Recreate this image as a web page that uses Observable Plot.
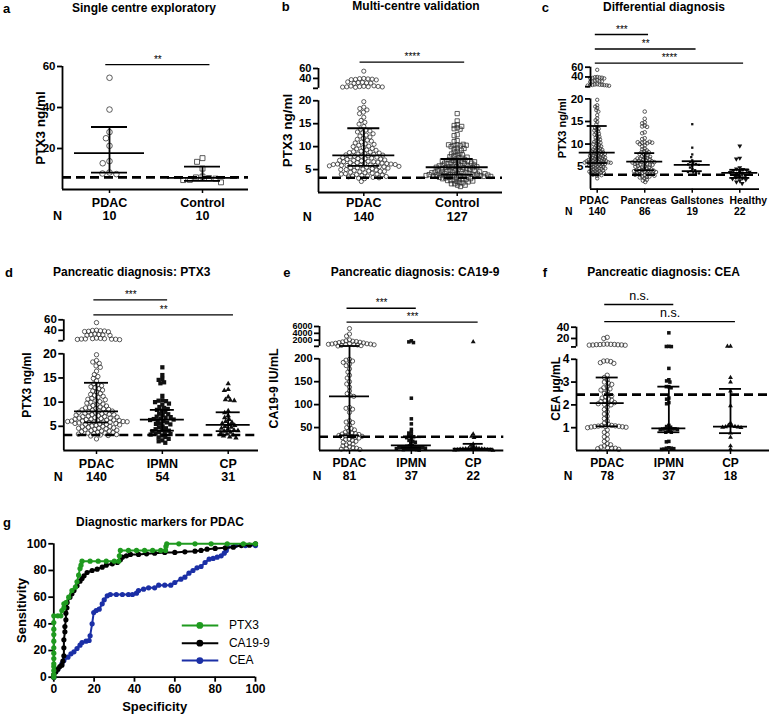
<!DOCTYPE html>
<html><head><meta charset="utf-8">
<script src="https://cdn.jsdelivr.net/npm/d3@7"></script>
<script src="https://cdn.jsdelivr.net/npm/@observablehq/plot@0.6"></script>
<style>
body{margin:0;background:#fff;}
#fig{position:relative;width:770px;height:714px;overflow:hidden;background:#fff;font-family:"Liberation Sans",Arial,Helvetica,sans-serif;color:#000;}
.panel{position:absolute;}
.panel svg{overflow:visible;}
.ttl{position:absolute;transform:translate(-50%,-50%);font-weight:bold;font-size:12px;white-space:nowrap;}
.lt{position:absolute;transform:translateY(-50%);font-weight:bold;font-size:13px;}
</style></head><body><div id="fig"></div>
<script>
// ---------------- DATA ----------------
const a_cats = ["PDAC", "Control"];
const a_n = [10, 10];
const a_pdac = [54.5, 39, 28, 25, 21.3, 13.8, 12.8, 8.3, 7.8, 7.5];
const a_control = [15.3, 13.5, 10.2, 6.3, 5.9, 5.6, 5.3, 4.7, 4.6, 3.5];
const a_stats = [[17.7, 8.2, 30.5], [5.7, 4.2, 11.2]]; // centre, low, high
const a_thr = 5.9;
const a_ticks = [20, 40, 60];
const a_sig = [{from: 0, to: 1, label: "**"}];

const ptx3_pdac = [54.6, 40, 39.5, 39, 38.5, 38, 37.5, 37, 33, 32, 31.5, 31, 30.5, 30,
  25, 24.5, 24, 23.8, 23.5, 23.2, 23, 22.8, 22.5, 22,
  19.8, 18.6, 18.3, 18.0, 17.5, 17.2, 16.4, 15.7, 15.3, 14.9, 14.4,
  13.8, 13.6, 13.4, 13.2, 13.0, 12.8, 12.5, 12.3, 12.1, 11.8, 11.6, 11.4, 11.2, 11.0, 10.8, 10.6, 10.5,
  10.3, 10.1, 10.0, 9.8, 9.6, 9.5, 9.3, 9.2, 9.0, 8.9, 8.8, 8.7, 8.6, 8.5, 8.4, 8.3, 8.2, 8.15,
  8.0, 7.9, 7.9, 7.8, 7.7, 7.6, 7.5, 7.4, 7.4, 7.3, 7.2, 7.1, 7.0, 7.0, 6.9, 6.8, 6.7, 6.7, 6.6, 6.5,
  6.5, 6.4, 6.3, 6.3, 6.2, 6.2, 6.1, 6.1, 6.0, 6.0, 5.95, 5.9, 5.9, 5.85, 5.8,
  5.7, 5.6, 5.6, 5.5, 5.4, 5.4, 5.3, 5.2, 5.1, 5.0, 5.0, 4.9, 4.8, 4.7, 4.6, 4.6, 4.5, 4.4, 4.3, 4.2,
  4.1, 4.0, 4.0, 3.9, 3.8, 3.7, 3.6, 3.6, 3.5, 3.4, 3.3, 3.2, 3.1, 3.0, 2.4];
const ptx3_ipmn = [17.2, 15.6, 14.8, 14.6, 14.1, 13.9, 11.3, 10.4, 10.3, 10.2, 10.0, 9.7, 9.5, 9.0, 8.8,
  8.6, 8.4, 8.2, 8.0, 7.6, 7.5, 7.3, 7.0, 6.9, 6.8, 6.6, 6.5, 6.4, 6.3, 6.2, 6.0, 5.8, 5.6, 5.5, 5.4,
  5.0, 4.8, 4.6, 4.4, 4.2, 4.1, 4.0, 3.8, 3.6, 3.5, 3.4, 3.3, 3.1, 2.8, 2.7, 2.4, 2.1, 1.9, 1.6];
const ptx3_cp = [13.8, 12.6, 12.4, 11.1, 10.5, 10.4, 10.3, 8.2, 7.8, 7.2, 6.8, 6.4, 6.0, 5.8, 5.6, 5.4,
  5.2, 5.0, 4.8, 4.6, 4.4, 4.2, 4.1, 4.0, 3.8, 3.6, 3.4, 3.2, 3.0, 2.8, 2.6];
const ptx3_panc_other = [5.9];
const ptx3_gall = [14.4, 9.2, 7.7, 7.1, 6.4, 6.0, 5.8, 5.6, 5.5, 5.4, 5.2, 4.8, 4.5, 4.2, 4.0, 3.8, 3.7, 3.6, 3.5];
const ptx3_healthy = [9.6, 6.9, 6.7, 4.8, 4.5, 4.4, 4.3, 4.1, 3.9, 3.8, 3.7, 3.5, 3.3, 3.0, 2.8, 2.6, 2.5, 2.3, 2.1, 1.9, 1.6, 1.3];
const ptx3_pancreas = [...ptx3_ipmn, ...ptx3_cp, ...ptx3_panc_other];
const ptx3_control = [...ptx3_pancreas, ...ptx3_gall, ...ptx3_healthy];
const ptx3_thr = 3.2;
const ptx3_low_ticks = [5, 10, 15, 20];
const ptx3_up_ticks = [40, 60];

const b_cats = ["PDAC", "Control"];
const b_n = [140, 127];
const b_stats = [[8.1, 5.8, 14.0], [5.5, 3.9, 7.3]];
const b_sig = [{from: 0, to: 1, label: "****"}];

const c_cats = ["PDAC", "Pancreas", "Gallstones", "Healthy"];
const c_n = [140, 86, 19, 22];
const c_stats = [[8.1, 5.8, 14.0], [6.1, 4.2, 8.0], [5.4, 4.0, 6.2], [3.6, 2.5, 4.3]];
const c_sig = [{from: 0, to: 1, label: "***"}, {from: 0, to: 2, label: "**"}, {from: 0, to: 3, label: "****"}];

const d_cats = ["PDAC", "IPMN", "CP"];
const d_n = [140, 54, 31];
const d_stats = [[8.1, 5.8, 14.0], [6.4, 4.1, 8.4], [5.3, 4.0, 7.9]];
const d_sig = [{from: 0, to: 1, label: "***"}, {from: 0, to: 2, label: "**"}];

const ca_pdac = [5400, 3800, 3200, 2100, 1800, 1700, 1600, 1500, 1400, 1300, 1200, 1100, 1000, 950, 900,
  850, 800, 750, 700, 650, 600, 500, 400, 300,
  199, 197, 195, 192, 188, 185, 178, 171, 164, 158, 150, 145, 138, 130, 124, 120, 118,
  94, 92, 90, 83, 65, 62, 61, 55, 50, 48, 45, 42, 40, 38, 37, 36, 35, 34, 33, 32, 31, 30, 29, 28, 27,
  25, 24, 22, 20, 18, 16, 14, 12, 10, 8, 6, 5, 4, 3, 2];
const ca_ipmn = [1800, 1500, 1300, 114, 69, 58, 46, 40, 38, 33, 32, 30, 28, 25, 22, 20, 18, 16, 11,
  10, 9, 9, 8, 8, 7, 7, 6, 6, 5, 5, 4, 4, 3, 3, 2, 2, 1];
const ca_cp = [1500, 36, 31, 28, 14, 11, 8, 6, 5, 4.5, 4.2, 3.8, 3.5, 3, 2.8, 2.5, 2, 1.8, 1.5, 1.2, 1, 0.5];
const e_n = [81, 37, 22];
const e_stats = [[118, 33, 300], [11, 6, 29], [4, 2, 14.5]];
const ca_thr = 30;
const ca_low_ticks = [50, 100, 150, 200];
const ca_up_ticks = [2000, 4000, 6000];
const e_sig = [{from: 0, to: 1, label: "***"}, {from: 0, to: 2, label: "***"}];

const cea_pdac = [22, 20, 10, 9.8, 9.6, 9.4, 9.2, 9.0, 8.8, 8.6, 8.4, 8.2, 8.0,
  3.93, 3.92, 3.9, 3.85, 3.82, 3.3, 3.2, 3.1, 3.0, 2.95, 2.9, 2.8, 2.75, 2.7, 2.65, 2.6, 2.5, 2.45,
  2.4, 2.35, 2.3, 2.25, 2.2, 2.18, 2.15, 2.1,
  2.08, 2.05, 2.02, 2.0, 1.9, 1.8, 1.7, 1.6, 1.5, 1.4, 1.3, 1.2, 1.15, 1.1, 1.09, 1.08, 1.07, 1.06,
  1.05, 1.05, 1.04, 1.03, 1.02, 1.0, 0.9, 0.8, 0.7, 0.6, 0.5, 0.4, 0.3, 0.25, 0.2, 0.15, 0.12, 0.1,
  0.1, 0.08, 0.05];
const cea_ipmn = [30, 6, 5.8, 5.6, 3.6, 3.1, 3.05, 3.0, 2.8, 2.8, 2.75, 2.3, 2.25, 2.1, 2.05, 1.1, 1.05,
  1.02, 0.97, 0.96, 0.95, 0.95, 0.94, 0.93, 0.92, 0.9, 0.85, 0.8, 0.8, 0.4, 0.38, 0.12, 0.1, 0.1,
  0.08, 0.06, 0.05];
const cea_cp = [6.2, 6.0, 3.2, 3.0, 2.6, 1.96, 1.2, 1.1, 1.08, 1.05, 1.04, 1.03, 1.02, 1.0, 0.76, 0.58, 0.2, 0.05];
const f_n = [78, 37, 18];
const f_stats = [[2.08, 1.06, 3.2], [0.97, 0.8, 2.8], [1.05, 0.76, 2.7]];
const cea_thr = 2.45;
const cea_low_ticks = [1, 2, 3, 4];
const cea_up_ticks = [20, 40];
const f_sig = [{from: 0, to: 1, label: "n.s."}, {from: 0, to: 2, label: "n.s."}];

// ROC: [x (Specificity axis), y (Sensitivity)]
const roc_ptx3 = [[0,0],[0,2],[0,5],[0,8],[0,10],[0,14],[0,18],[0,22],[0,27],[0,32],[0,36],[0,41],[0,46],
  [2,46],[3.5,46],[4,50],[5,52],[5,55],[6,56],[7.4,60],[9,65],[10.7,67.5],[11.5,71.5],[12.3,76.5],
  [13,81.5],[13.5,84],[14,87],[18,87],[22,87],[26,87],[30,87],[32.2,87],[32.5,91],[33,95],[37,95],
  [41,95],[45,95],[49,95],[53,95],[55.4,95],[55.6,98],[56,100],[62,100],[70,100],[78,100],[86,100],
  [94,100],[100,100]];
const roc_ca199 = [[0,0],[0,2],[1,4],[2,6],[3,8],[4,9],[4.5,12],[5,16],[5,22],[5,28],[5.5,34],[5.5,38],
  [6,43],[6,48],[6.5,52],[6.6,56],[8,60],[9,62.5],[10,65],[11.5,68.5],[13,72],[14,74],[15,76],
  [16.5,78.5],[19,80],[21.5,81],[24,82.5],[26,84],[29,85],[31.5,86],[33,88],[34,90],[36,91],[38,92],
  [42,92],[46,92.5],[50,93],[55,93.5],[60,93.5],[65,94],[70,94.5],[73,95],[76,96],[80,96.5],[85,97],
  [89,97.5],[93,98.7],[97,99],[100,100]];
const roc_cea = [[0,0],[1,4],[2,6],[4,10],[5,12.5],[7,15],[8.5,17.5],[10,19],[11.5,21.5],[13,24],[14,26],
  [16,27],[17.5,27.5],[18,31],[19,40],[19.8,48.5],[21,50],[22.5,51],[24,55],[25,58],[26.5,61],[28,62],
  [31,62],[34,62],[37,62],[39,62],[41,63],[42,65],[44.5,66],[47,67],[50,67],[52,69],[55,69],[58,69],
  [60,71],[63,73.5],[65,75],[67,78],[69,80],[71,82],[73,83],[75,86],[77,88.5],[79,89],[81,90],[83,91],
  [84.5,93],[85.5,95],[86,97.5],[90,98.7],[95,98.7],[100,98.7]];
const roc_names = ["PTX3", "CA19-9", "CEA"];
const roc_ticks = [0, 20, 40, 60, 80, 100];

// ---------------- DRAWING ----------------
const FONT = '"Liberation Sans", Arial, Helvetica, sans-serif';
const fig = document.getElementById("fig");
const STYLE = {background: "transparent", overflow: "visible", fontFamily: FONT, color: "#000"};
const LW = 1.8;

function makeTf(lowHi, upLo, upHi) {
  const FL = 0.74, FU = 0.84;
  if (upLo === undefined) {
    const f = v => v / lowHi; f.low = f; f.segs = [[0, 1]]; return f;
  }
  const low = v => v / lowHi * FL;
  const up = v => FU + (v - upLo) / (upHi - upLo) * (1 - FU);
  const f = v => v <= lowHi ? low(v) : up(v);
  f.low = low; f.up = up; f.segs = [[0, FL], [FU, 1]];
  return f;
}

function place(el, left, top, W, H) {
  const d = document.createElement("div");
  d.className = "panel";
  Object.assign(d.style, {left: left + "px", top: top + "px", width: W + "px", height: H + "px"});
  d.appendChild(el);
  fig.appendChild(d);
}

function catPanel(c) {
  const tf = c.tf;
  const xd = [(c.L - c.c0) / c.step, (c.R - c.c0) / c.step];
  const mid = (c.L + c.R) / 2;
  const idx = c.cats.map((d, i) => i);
  const marks = [];
  // scatter (beeswarm via Plot's dodge)
  c.groups.forEach((g, i) => {
    marks.push(Plot.dot(g.data, Plot.dodgeX({anchor: "middle", padding: g.pad ?? 0}, {
      y: d => tf(d), r: g.r, symbol: g.symbol,
      fill: g.filled ? "#111" : "none", stroke: g.filled ? "none" : "#333", strokeWidth: 0.8,
      rotate: g.rotate || 0, dx: c.c0 + i * c.step - mid
    })));
  });
  // centre line and error bars
  const st = c.stats.map((s, i) => ({i, m: s[0], lo: s[1], hi: s[2]}));
  const mh = c.mh / c.step, qh = c.qh / c.step;
  marks.push(Plot.ruleX(st, {x: "i", y1: d => tf(d.lo), y2: d => tf(d.hi), strokeWidth: LW}));
  marks.push(Plot.ruleY(st, {y: d => tf(d.m), x1: d => d.i - mh, x2: d => d.i + mh, strokeWidth: LW}));
  marks.push(Plot.ruleY(st, {y: d => tf(d.lo), x1: d => d.i - qh, x2: d => d.i + qh, strokeWidth: LW}));
  marks.push(Plot.ruleY(st, {y: d => tf(d.hi), x1: d => d.i - qh, x2: d => d.i + qh, strokeWidth: LW}));
  // threshold
  marks.push(Plot.ruleY([c.thr], {y: d => tf(d), strokeWidth: 2.6, strokeDasharray: "9,5"}));
  // axes
  marks.push(Plot.ruleX(tf.segs, {x: xd[0], y1: d => d[0], y2: d => d[1], strokeWidth: LW}));
  marks.push(Plot.ruleY([0], {strokeWidth: LW}));
  const lowT = c.lowTicks.map(v => [tf.low(v), String(v)]);
  const lab1 = new Map(lowT);
  marks.push(Plot.axisY({ticks: lowT.map(t => t[0]), tickFormat: d => lab1.get(d), tickSize: 5, tickPadding: 2,
    fontSize: c.tickFs, fontWeight: "bold", strokeWidth: LW, label: null}));
  if (c.upTicks) {
    const upT = [[tf.up(c.upBase), ""], ...c.upTicks.map(v => [tf.up(v), String(v)])];
    const lab2 = new Map(upT);
    marks.push(Plot.axisY({ticks: upT.map(t => t[0]), tickFormat: d => lab2.get(d), tickSize: 5, tickPadding: 2,
      fontSize: c.upFs || c.tickFs, fontWeight: "bold", strokeWidth: LW, label: null}));
  }
  marks.push(Plot.axisX({ticks: idx, tickFormat: () => "", tickSize: 4, strokeWidth: 1.5, label: null}));
  c.cats.forEach((name, i) => {
    marks.push(Plot.text([name], {x: i, frameAnchor: "bottom", dy: c.catDy, dx: c.catDx ? c.catDx[i] : 0,
      lineAnchor: "middle", textAnchor: "middle", fontSize: c.catFs, fontWeight: "bold", fill: "#000"}));
  });
  marks.push(Plot.text(c.ns, {x: (d, i) => i, text: d => String(d), frameAnchor: "bottom", dy: c.nDy,
    lineAnchor: "middle", textAnchor: "middle", fontSize: c.catFs, fontWeight: "bold", fill: "#000"}));
  marks.push(Plot.text(["N"], {frameAnchor: "bottom-left", dx: c.nDx, dy: c.nDy, lineAnchor: "middle",
    textAnchor: "middle", fontSize: c.catFs, fontWeight: "bold", fill: "#000"}));
  marks.push(Plot.text([c.ylabel], {frameAnchor: "left", rotate: -90, dx: c.ylDx, lineAnchor: "middle",
    textAnchor: "middle", fontSize: c.ylFs, fontWeight: "bold", fill: "#000"}));
  // significance bars
  const sg = c.sig.map((s, k) => ({...s, f: c.sigF[k]}));
  marks.push(Plot.ruleY(sg, {y: "f", x1: d => d.from - 0.04, x2: d => d.to + 0.08, strokeWidth: 1.3}));
  marks.push(Plot.text(sg, {x: d => (d.from + d.to + 0.04) / 2, y: "f", text: "label", dy: c.sigDy || -5,
    lineAnchor: "middle", fontSize: c.sigFs || 10, fontWeight: "normal", fill: "#000"}));
  const svg = Plot.plot({
    width: c.W, height: c.H,
    marginLeft: c.L, marginRight: c.W - c.R, marginTop: c.T, marginBottom: c.H - c.B,
    x: {domain: xd}, y: {domain: [0, 1]},
    style: STYLE, marks
  });
  place(svg, c.left, c.top, c.W, c.H);
}

catPanel({left: 0, top: 0, W: 255, H: 225, L: 62, R: 248, T: 66, B: 189, c0: 109, step: 93,
  tf: makeTf(60), lowTicks: a_ticks, tickFs: 11.5, ylabel: "PTX3 ng/ml", ylDx: -22, ylFs: 13.5,
  cats: a_cats, ns: a_n, catFs: 12.5, catDy: 13, nDy: 26, nDx: -5,
  groups: [{data: a_pdac, symbol: "circle", r: 2.8, pad: 1.5}, {data: a_control, symbol: "square", r: 2.8, pad: 1}],
  stats: a_stats, mh: 35, qh: 18, thr: a_thr, sig: a_sig, sigF: [1.016]});

catPanel({left: 255, top: 0, W: 255, H: 225, L: 63, R: 247, T: 68, B: 192, c0: 108.3, step: 93.4,
  tf: makeTf(20, 20, 60), lowTicks: ptx3_low_ticks, upBase: 20, upTicks: ptx3_up_ticks, tickFs: 11.5, upFs: 11,
  ylabel: "PTX3 ng/ml", ylDx: -31, ylFs: 13.5, cats: b_cats, ns: b_n, catFs: 12.5, catDy: 10, nDy: 24.7, nDx: -11.3,
  groups: [{data: ptx3_pdac, symbol: "circle", r: 2.1, pad: 0}, {data: ptx3_control, symbol: "square", r: 2.4, pad: -1.6}],
  stats: b_stats, mh: 31, qh: 16, thr: ptx3_thr, sig: b_sig, sigF: [1.051]});

catPanel({left: 510, top: 0, W: 260, H: 225, L: 80, R: 249, T: 66.7, B: 188.7, c0: 86.7, step: 47.53,
  tf: makeTf(20, 20, 60), lowTicks: ptx3_low_ticks, upBase: 20, upTicks: ptx3_up_ticks, tickFs: 11.5, upFs: 11,
  ylabel: "PTX3 ng/ml", ylDx: -28.3, ylFs: 11, cats: c_cats, ns: c_n, catFs: 10.4, catDx: [-3, -1, 5, 8.5],
  catDy: 11.3, nDy: 22.5, nDx: -21.7,
  groups: [{data: ptx3_pdac, symbol: "circle", r: 1.7, pad: -1}, {data: ptx3_pancreas, symbol: "circle", r: 1.8, pad: -0.9},
    {data: ptx3_gall, symbol: "square", r: 1.3, filled: true, pad: 0.3},
    {data: ptx3_healthy, symbol: "triangle", r: 1.8, filled: true, rotate: 180, pad: 0}],
  stats: c_stats, mh: 18, qh: 10, thr: ptx3_thr, sig: c_sig, sigF: [1.268, 1.149, 1.033]});

catPanel({left: 0, top: 230, W: 265, H: 255, L: 63.3, R: 258, T: 89.3, B: 220, c0: 96, step: 65.85,
  tf: makeTf(20, 20, 60), lowTicks: ptx3_low_ticks, upBase: 20, upTicks: ptx3_up_ticks, tickFs: 12.5, upFs: 11.5,
  ylabel: "PTX3 ng/ml", ylDx: -36.6, ylFs: 12, cats: d_cats, ns: d_n, catFs: 12.5, catDy: 13.3, nDy: 26.7, nDx: -5.6,
  groups: [{data: ptx3_pdac, symbol: "circle", r: 2.2, pad: -0.4}, {data: ptx3_ipmn, symbol: "square", r: 2.4, filled: true, pad: -1},
    {data: ptx3_cp, symbol: "triangle", r: 2.0, filled: true, pad: 0}],
  stats: d_stats, mh: 22, qh: 12, thr: ptx3_thr, sig: d_sig, sigF: [1.153, 1.038]});

catPanel({left: 255, top: 230, W: 260, H: 255, L: 64, R: 248.3, T: 96, B: 220, c0: 94, step: 61.85,
  tf: makeTf(200, 200, 6000), lowTicks: ca_low_ticks, upBase: 200, upTicks: ca_up_ticks, tickFs: 11, upFs: 9,
  ylabel: "CA19-9 IU/mL", ylDx: -45.7, ylFs: 12.3, cats: d_cats, ns: e_n, catFs: 12, catDy: 12.7, nDy: 26, nDx: -2.3,
  groups: [{data: ca_pdac, symbol: "circle", r: 2.1, pad: -0.6}, {data: ca_ipmn, symbol: "square", r: 2.0, filled: true, pad: -1.3},
    {data: ca_cp, symbol: "triangle", r: 1.8, filled: true, pad: -0.8}],
  stats: e_stats, mh: 20, qh: 10, thr: ca_thr, sig: e_sig, sigF: [1.147, 1.035]});

catPanel({left: 505, top: 230, W: 265, H: 255, L: 71, R: 264, T: 96.7, B: 220, c0: 101.7, step: 61.65,
  tf: makeTf(4, 5, 40), lowTicks: cea_low_ticks, upBase: 5, upTicks: cea_up_ticks, tickFs: 12, upFs: 11.5,
  ylabel: "CEA µg/mL", ylDx: -20, ylFs: 12, cats: d_cats, ns: f_n, catFs: 12, catDy: 12.7, nDy: 26, nDx: -8.3,
  groups: [{data: cea_pdac, symbol: "circle", r: 2.2, pad: -0.8}, {data: cea_ipmn, symbol: "square", r: 2.0, filled: true, pad: -1.5},
    {data: cea_cp, symbol: "triangle", r: 1.8, filled: true, pad: -0.5}],
  stats: f_stats, mh: 17, qh: 11, thr: cea_thr, sig: f_sig, sigF: [1.184, 1.046], sigFs: 12.5, sigDy: -9});

// ---- panel g: ROC ----
(function () {
  const colors = ["#1f9a1f", "#000000", "#1b2fa6"];
  const series = [roc_ptx3, roc_ca199, roc_cea];
  const leg = {x1: 63.7, x2: 81.8, xd: 72.4, xt: 86.8, y: [38.8, 25.5, 12.5]};
  const marks = [];
  marks.push(Plot.ruleX([0], {strokeWidth: LW}), Plot.ruleY([0], {strokeWidth: LW}));
  marks.push(Plot.axisX({ticks: roc_ticks, tickSize: 5, tickPadding: 2, fontSize: 12, fontWeight: "bold", strokeWidth: LW, label: null}));
  marks.push(Plot.axisY({ticks: roc_ticks, tickSize: 5, tickPadding: 2, fontSize: 12, fontWeight: "bold", strokeWidth: LW, label: null}));
  [2, 1, 0].forEach(k => {
    marks.push(Plot.line(series[k], {x: d => d[0], y: d => d[1], stroke: colors[k], strokeWidth: 2}));
    marks.push(Plot.dot(series[k], {x: d => d[0], y: d => d[1], fill: colors[k], r: 2.6}));
  });
  roc_names.forEach((name, k) => {
    marks.push(Plot.ruleY([leg.y[k]], {x1: leg.x1, x2: leg.x2, stroke: colors[k], strokeWidth: 2}));
    marks.push(Plot.dot([leg.y[k]], {x: leg.xd, y: d => d, fill: colors[k], r: 3.4}));
    marks.push(Plot.text([name], {x: leg.xt, y: leg.y[k], textAnchor: "start", lineAnchor: "middle", fontSize: 12, fill: "#000"}));
  });
  marks.push(Plot.text(["Specificity"], {frameAnchor: "bottom", dy: 30, lineAnchor: "middle", textAnchor: "middle", fontSize: 13, fontWeight: "bold", fill: "#000"}));
  marks.push(Plot.text(["Sensitivity"], {frameAnchor: "left", rotate: -90, dx: -31.6, lineAnchor: "middle", textAnchor: "middle", fontSize: 13, fontWeight: "bold", fill: "#000"}));
  const svg = Plot.plot({width: 280, height: 234, marginLeft: 53.3, marginRight: 25, marginTop: 63.3, marginBottom: 37.3,
    x: {domain: [0, 100]}, y: {domain: [0, 100]}, style: STYLE, marks});
  place(svg, 0, 480, 280, 234);
})();

// ---- titles and panel letters ----
const titles = [
  ["a", "Single centre exploratory", 3, 8, 144, 8],
  ["b", "Multi-centre validation", 281.7, 6, 416, 6],
  ["c", "Differential diagnosis", 541.7, 7, 664, 7],
  ["d", "Pancreatic diagnosis: PTX3", 5, 271.7, 131.7, 271.7],
  ["e", "Pancreatic diagnosis: CA19-9", 283.3, 271.7, 415, 271.7],
  ["f", "Pancreatic diagnosis: CEA", 542.7, 271.7, 663.5, 271.7],
  ["g", "Diagnostic markers for PDAC", 3, 521.7, 160, 521.7]
];
titles.forEach(([l, t, lx, ly, tx, ty]) => {
  const a = document.createElement("div"); a.className = "lt"; a.textContent = l;
  a.style.left = lx + "px"; a.style.top = ly + "px"; fig.appendChild(a);
  const b = document.createElement("div"); b.className = "ttl"; b.textContent = t;
  b.style.left = tx + "px"; b.style.top = ty + "px"; fig.appendChild(b);
});
</script></body></html>
